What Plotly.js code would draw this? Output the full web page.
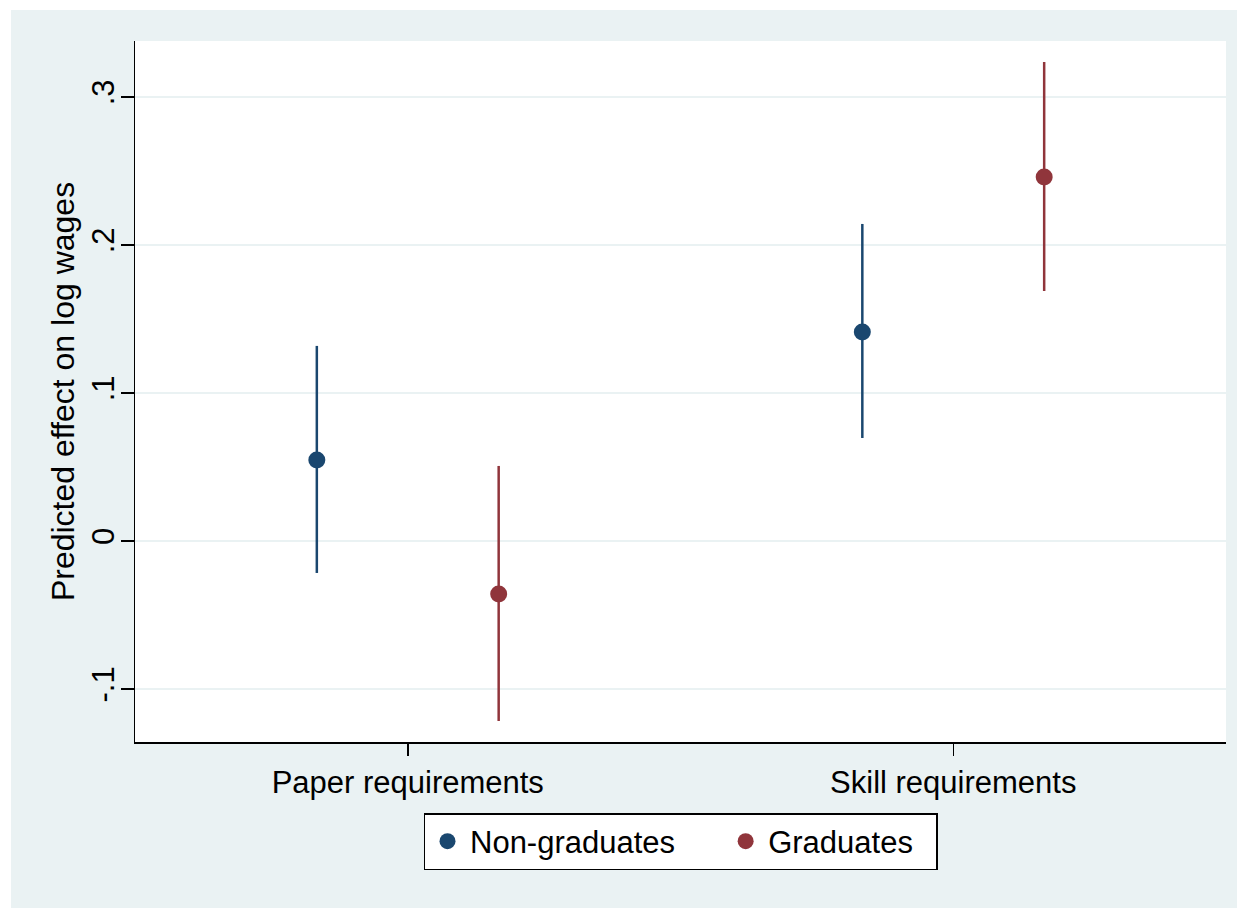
<!DOCTYPE html>
<html>
<head>
<meta charset="utf-8">
<script src="https://cdn.plot.ly/plotly-3.0.1.min.js"></script>
<style>
  html, body { margin: 0; padding: 0; background: #ffffff; overflow: hidden; }
  #chart { position: absolute; left: 11px; top: 10px; width: 1226px; height: 898px; }
</style>
</head>
<body>
<div id="chart"></div>
<script>
// Data
const categories = ["Paper requirements", "Skill requirements"];
const seriesNames = ["Non-graduates", "Graduates"];
const nonGradEst = [0.0547, 0.1412];
const nonGradLo  = [-0.0216, 0.0696];
const nonGradHi  = [0.1318, 0.2142];
const gradEst    = [-0.0358, 0.2459];
const gradLo     = [-0.1216, 0.1689];
const gradHi     = [0.0507, 0.3236];
const yTickVals  = [-0.1, 0, 0.1, 0.2, 0.3];
const yTickText  = ["-.1", "0", ".1", ".2", ".3"];

const navy = "#1a476f";
const maroon = "#90353b";
const bg = "#eaf2f3";
const FONT = "Liberation Sans, Arial, Helvetica, sans-serif";
const offset = 1/6;
const NB = "\u00a0";

const catPos = categories.map((c, i) => i + 1);

function makeTrace(name, est, lo, hi, color, shift, pad) {
  return {
    type: "scatter",
    mode: "markers",
    name: name + NB.repeat(pad),
    x: catPos.map(p => p + shift),
    y: est,
    marker: { color: color, size: 17, line: { width: 0 } },
    error_y: {
      type: "data",
      symmetric: false,
      array: hi.map((h, i) => h - est[i]),
      arrayminus: est.map((e, i) => e - lo[i]),
      color: color,
      thickness: 2.5,
      width: 0
    },
    hoverinfo: "x+y"
  };
}

const traces = [
  makeTrace(seriesNames[0], nonGradEst, nonGradLo, nonGradHi, navy, -offset, 5),
  makeTrace(seriesNames[1], gradEst, gradLo, gradHi, maroon, offset, 2)
];

const layout = {
  width: 1226,
  height: 898,
  paper_bgcolor: bg,
  plot_bgcolor: "#ffffff",
  margin: { l: 124, r: 11, t: 31, b: 166 },
  font: { family: FONT, size: 32, color: "#000000" },
  showlegend: true,
  legend: {
    orientation: "h",
    x: 0.5, xanchor: "center",
    y: -0.1013, yanchor: "top",
    bgcolor: "#ffffff",
    bordercolor: "#000000",
    borderwidth: 1.5,
    itemwidth: 35,
    font: { family: FONT, size: 31, color: "#000000" },
    itemclick: false
  },
  xaxis: {
    range: [0.5, 2.5],
    tickmode: "array",
    tickvals: catPos,
    ticktext: categories,
    ticks: "outside",
    ticklen: 12,
    tickwidth: 1.5,
    tickcolor: "#000000",
    showgrid: false,
    zeroline: false,
    showline: true,
    linecolor: "#000000",
    linewidth: 1.5,
    tickfont: { family: FONT, size: 31 },
    fixedrange: true
  },
  yaxis: {
    range: [-0.1358, 0.3378],
    tickmode: "array",
    tickvals: yTickVals,
    ticktext: yTickText,
    tickangle: -90,
    ticks: "outside",
    ticklen: 13,
    tickwidth: 1.5,
    tickcolor: "#000000",
    ticklabelstandoff: -6,
    showgrid: true,
    gridcolor: bg,
    gridwidth: 2,
    zeroline: false,
    showline: true,
    linecolor: "#000000",
    linewidth: 1.5,
    tickfont: { family: FONT, size: 31 },
    title: { text: "Predicted effect on log wages", font: { family: FONT, size: 32 }, standoff: 2 },
    fixedrange: true
  },
  shapes: [
    {
      type: "line", xref: "paper", x0: 0, x1: 1, yref: "y", y0: 0, y1: 0,
      line: { color: "#c60c30", width: 2 }, layer: "below"
    }
  ]
};

Plotly.newPlot("chart", traces, layout, { displayModeBar: false, staticPlot: true });
</script>
</body>
</html>
